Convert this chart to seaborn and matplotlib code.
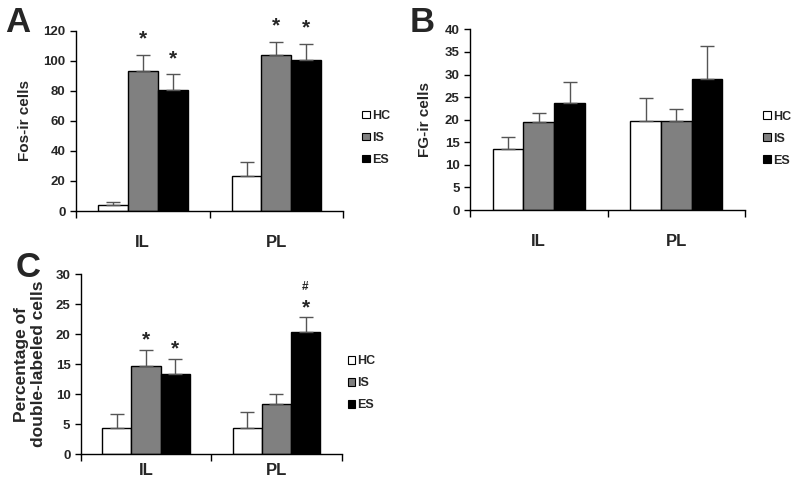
import numpy as np
import pandas as pd
import seaborn as sns
import matplotlib.pyplot as plt
from matplotlib.patches import Patch

# Data
regions = ['IL', 'PL']
groups = ['HC', 'IS', 'ES']
colors = ['white', '#808080', 'black']

# A: Fos-ir cells
fos_mean = {'HC': [3.8, 23.5], 'IS': [93.3, 104.0], 'ES': [80.2, 100.2]}
fos_err = {'HC': [2.4, 9.0], 'IS': [10.7, 8.4], 'ES': [10.8, 11.1]}
fos_star = {'HC': ['', ''], 'IS': ['*', '*'], 'ES': ['*', '*']}

# B: FG-ir cells
fg_mean = {'HC': [13.5, 19.8], 'IS': [19.4, 19.8], 'ES': [23.7, 28.9]}
fg_err = {'HC': [2.7, 5.1], 'IS': [2.0, 2.6], 'ES': [4.7, 7.3]}
fg_star = {'HC': ['', ''], 'IS': ['', ''], 'ES': ['', '']}

# C: percentage of double-labeled cells
dbl_mean = {'HC': [4.3, 4.3], 'IS': [14.7, 8.4], 'ES': [13.4, 20.3]}
dbl_err = {'HC': [2.4, 2.8], 'IS': [2.7, 1.6], 'ES': [2.5, 2.5]}
dbl_star = {'HC': ['', ''], 'IS': ['*', ''], 'ES': ['*', '*']}
dbl_hash = {'HC': ['', ''], 'IS': ['', ''], 'ES': ['', '#']}

sns.set_style('ticks')
plt.rcParams['font.family'] = ['Liberation Sans', 'DejaVu Sans']
plt.rcParams['font.weight'] = 'bold'
plt.rcParams['axes.labelweight'] = 'bold'


def draw_panel(ax, means, errs, stars, ymax, ystep, ylabel, label_x,
               leg_pos, xpad, star_off, ylab_size=11, hashes=None):
    df = pd.DataFrame([(r, g, means[g][i]) for g in groups
                       for i, r in enumerate(regions)],
                      columns=['region', 'group', 'value'])
    sns.barplot(data=df, x='region', y='value', hue='group', order=regions,
                hue_order=groups, palette=colors, saturation=1, width=0.67,
                edgecolor='black', linewidth=1, errorbar=None, legend=False,
                ax=ax)
    for cont, g in zip(ax.containers, groups):
        xs = [b.get_x() + b.get_width() / 2 for b in cont]
        ax.errorbar(xs, means[g], yerr=[np.zeros(len(xs)), errs[g]],
                    fmt='none', ecolor='#555555', elinewidth=1, capsize=5,
                    capthick=1)
        for i, x in enumerate(xs):
            top = means[g][i] + errs[g][i]
            if stars[g][i]:
                ax.annotate(stars[g][i], (x, top), xytext=(0, star_off),
                            textcoords='offset points', ha='center',
                            va='bottom', fontsize=15, fontweight='bold')
            if hashes and hashes[g][i]:
                ax.annotate(hashes[g][i], (x, top),
                            xytext=(0, star_off + 17.2),
                            textcoords='offset points', ha='center',
                            va='bottom', fontsize=8.5, fontweight='bold')

    ax.set_ylim(0, ymax)
    ax.set_yticks(np.arange(0, ymax + 1, ystep))
    ax.set_xlim(-0.5, 1.5)
    ax.set_xticks([-0.5, 0.5, 1.5])
    ax.set_xticklabels([])
    ax.set_xticks([0, 1], minor=True)
    ax.set_xticklabels(regions, minor=True, fontsize=12, fontweight='bold')
    ax.tick_params(axis='x', which='minor', length=0, pad=xpad)
    ax.tick_params(axis='x', which='major', length=5, width=1, color='black')
    ax.tick_params(axis='y', length=4, width=1, color='black', labelsize=9.5)
    plt.setp(ax.get_yticklabels(), fontweight='bold')
    ax.set_xlabel('')
    ax.set_ylabel(ylabel, fontsize=ylab_size, fontweight='bold',
                  linespacing=1.1)
    ax.yaxis.set_label_coords(label_x, 0.5)
    sns.despine(ax=ax)
    for s in ['left', 'bottom']:
        ax.spines[s].set_color('black')
        ax.spines[s].set_linewidth(1)

    handles = [Patch(facecolor=c, edgecolor='black', linewidth=0.8)
               for c in colors]
    ax.legend(handles, groups, loc='center left', bbox_to_anchor=leg_pos,
              frameon=False, borderpad=0, borderaxespad=0, handlelength=0.6,
              handleheight=0.6, handletextpad=0.2, labelspacing=0.8,
              prop={'size': 9, 'weight': 'bold'})


fig = plt.figure(figsize=(8, 4.93), dpi=100)
ax_a = fig.add_axes([0.095, 0.572, 0.334, 0.366])
ax_b = fig.add_axes([0.5875, 0.574, 0.344, 0.3665])
ax_c = fig.add_axes([0.101, 0.0785, 0.326, 0.3657])

draw_panel(ax_a, fos_mean, fos_err, fos_star, 120, 20, 'Fos-ir cells',
           -0.165, (1.071, 0.405), 17, 4.5)
draw_panel(ax_b, fg_mean, fg_err, fg_star, 40, 5, 'FG-ir cells',
           -0.138, (1.065, 0.395), 17, 4.5)
draw_panel(ax_c, dbl_mean, dbl_err, dbl_star, 30, 5,
           'Percentage of\ndouble-labeled cells', -0.135, (1.023, 0.395), 6,
           0, ylab_size=12.5, hashes=dbl_hash)

fig.text(0.006, 0.935, 'A', fontsize=25, fontweight='bold', va='baseline')
fig.text(0.512, 0.935, 'B', fontsize=25, fontweight='bold', va='baseline')
fig.text(0.02, 0.438, 'C', fontsize=25, fontweight='bold', va='baseline')

fig.savefig('out.png', dpi=100)
